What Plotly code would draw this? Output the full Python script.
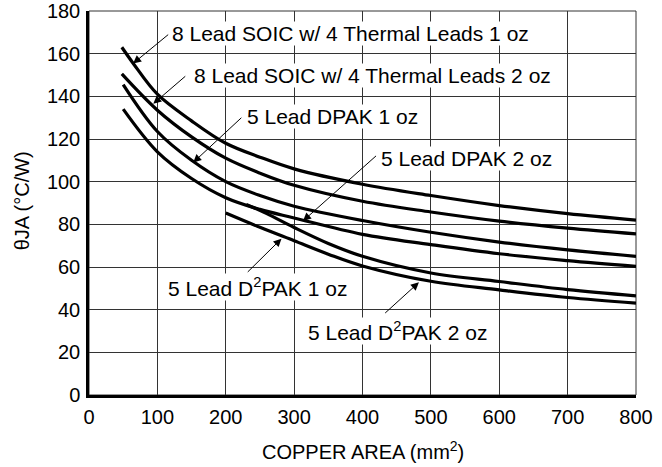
import plotly.graph_objects as go

# ---- data ----
soic1_x = [48, 65, 100, 150, 200, 250, 300, 400, 500, 600, 700, 800]
soic1_y = [163, 155.3, 141, 128.5, 118, 111.5, 106, 98.8, 93.5, 88.8, 85, 82]

soic2_x = [48, 100, 150, 200, 250, 300, 400, 500, 600, 700, 800]
soic2_y = [150.5, 133.5, 121, 111, 104, 98.3, 90.8, 85.8, 81.5, 78.2, 75.5]

dpak1_x = [50, 100, 150, 200, 250, 300, 400, 500, 600, 700, 800]
dpak1_y = [145.5, 123.5, 110, 100, 93.5, 88.5, 81.8, 76.3, 71.7, 68, 65]

dpak2_x = [50, 100, 150, 200, 250, 300, 400, 500, 600, 700, 800]
dpak2_y = [134, 114, 101.5, 92.5, 87, 83, 75.3, 70.5, 66.2, 63, 60.3]

# branches off the 5 Lead DPAK 2 oz curve near 230 mm²
d2pak_a_x = [230, 260, 300, 350, 400, 500, 600, 700, 800]
d2pak_a_y = [89.3, 85, 78.5, 71, 65, 57.2, 53.2, 49.4, 46.5]

d2pak_b_x = [200, 250, 300, 350, 400, 500, 600, 700, 800]
d2pak_b_y = [85.3, 78.6, 72.3, 66, 60.5, 53.3, 49.3, 45.7, 43.1]

x_ticks = [0, 100, 200, 300, 400, 500, 600, 700, 800]
y_ticks = [0, 20, 40, 60, 80, 100, 120, 140, 160, 180]

series = [
    ("8 Lead SOIC w/ 4 Thermal Leads 1 oz", soic1_x, soic1_y),
    ("8 Lead SOIC w/ 4 Thermal Leads 2 oz", soic2_x, soic2_y),
    ("5 Lead DPAK 1 oz", dpak1_x, dpak1_y),
    ("5 Lead DPAK 2 oz", dpak2_x, dpak2_y),
    ("5 Lead D<sup>2</sup>PAK 1 oz", d2pak_a_x, d2pak_a_y),
    ("5 Lead D<sup>2</sup>PAK 2 oz", d2pak_b_x, d2pak_b_y),
]

# label text, text left anchor (data), arrow tail (data), arrow head (data)
labels = [
    ("8 Lead SOIC w/ 4 Thermal Leads 1 oz", 120, 169.5, (118, 169.5), (64.5, 155.4)),
    ("8 Lead SOIC w/ 4 Thermal Leads 2 oz", 152.5, 149.8, (143, 150), (94, 136.5)),
    ("5 Lead DPAK 1 oz", 230, 130.4, (225, 130.6), (152.5, 109)),
    ("5 Lead DPAK 2 oz", 425, 110.8, (422, 112.7), (313, 81.6)),
    ("5 Lead D<sup>2</sup>PAK 1 oz", 114, 50.4, (230, 57), (281.5, 73.3)),
    ("5 Lead D<sup>2</sup>PAK 2 oz", 319, 30, (431, 37.8), (482.5, 52.8)),
]

FONT = "Liberation Sans, Arial, Helvetica, sans-serif"

fig = go.Figure()
for name, xs, ys in series:
    fig.add_trace(go.Scatter(x=xs, y=ys, mode="lines", name=name,
                             line=dict(color="black", width=3.2, shape="spline", smoothing=1.0),
                             showlegend=False, hoverinfo="skip"))

annotations = []
for text, tx, ty, tail, head in labels:
    annotations.append(dict(x=tx, y=ty, xref="x", yref="y", text=text, showarrow=False,
                            xanchor="left", yanchor="middle", bgcolor="white",
                            font=dict(family=FONT, size=21, color="black"), borderpad=0))
    annotations.append(dict(x=head[0], y=head[1], ax=tail[0], ay=tail[1], xref="x", yref="y",
                            axref="x", ayref="y", text="", showarrow=True,
                            arrowhead=2, arrowsize=1.6, arrowwidth=1, arrowcolor="black"))

# axis titles
annotations.append(dict(x=-0.122, y=0.505, xref="paper", yref="paper", text="θJA (°C/W)",
                        showarrow=False, textangle=-90, xanchor="center", yanchor="middle",
                        font=dict(family=FONT, size=20, color="black")))
annotations.append(dict(x=0.5, y=-0.145, xref="paper", yref="paper",
                        text="COPPER AREA (mm<sup>2</sup>)",
                        showarrow=False, xanchor="center", yanchor="middle",
                        font=dict(family=FONT, size=20, color="black")))

fig.update_layout(
    width=662, height=467,
    margin=dict(l=89, r=26, t=11, b=72, autoexpand=False),
    paper_bgcolor="white", plot_bgcolor="white",
    font=dict(family=FONT, size=20, color="black"),
    annotations=annotations,
    xaxis=dict(range=[0, 800], tickvals=x_ticks, ticktext=[str(v) for v in x_ticks],
               showgrid=True, gridcolor="#333333", gridwidth=1, automargin=False,
               showline=True, linecolor="black", linewidth=2.5, mirror=False,
               ticks="", zeroline=False, ticklabelstandoff=2,
               tickfont=dict(family=FONT, size=20)),
    yaxis=dict(range=[0, 180], tickvals=y_ticks, ticktext=[str(v) for v in y_ticks],
               showgrid=True, gridcolor="#333333", gridwidth=1, automargin=False,
               showline=True, linecolor="black", linewidth=2.5, mirror=False,
               ticks="", zeroline=False, ticklabelstandoff=2,
               tickfont=dict(family=FONT, size=20)),
    shapes=[dict(type="rect", xref="paper", yref="paper", x0=0, y0=0, x1=1, y1=1,
                 line=dict(color="#333333", width=1), layer="below")],
)

fig.write_html("out.html", config={"displayModeBar": False},
               post_script="document.body.style.margin='0';document.body.style.padding='0';")
